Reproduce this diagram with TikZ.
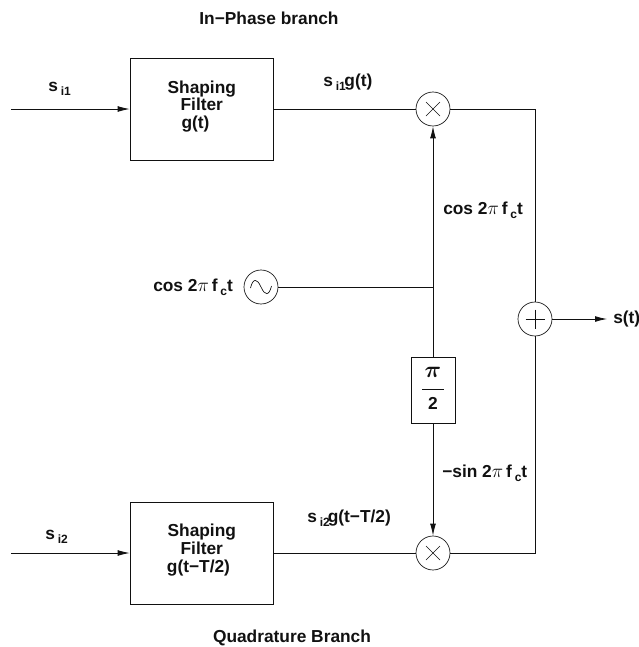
\documentclass[tikz,border=0pt]{standalone}
\usepackage{fontspec}
\setmainfont{Liberation Sans}
\usetikzlibrary{arrows.meta,calc}
\definecolor{ink}{HTML}{111111}
\newcommand{\lowtxt}[1]{\,\raisebox{-3pt}{\fontsize{9}{9}\selectfont #1}}
\newcommand{\pitxt}{{\fontsize{15}{13}\selectfont$\pi$}}

\begin{document}
\begin{tikzpicture}[
  x=0.75pt, y=-0.75pt,
  font={\fontsize{13}{13.2}\selectfont\bfseries},
  >={Latex[length=9pt,width=4.4pt]},
  filterbox/.style={draw=ink, line width=0.6pt, minimum width=107.6pt, minimum height=76.5pt,
    inner sep=0pt, anchor=center},
  filtertext/.style={align=center, inner sep=0pt, text=ink, anchor=center},
  phasebox/.style={draw=ink, line width=0.6pt, minimum width=33pt, minimum height=49.5pt,
    inner sep=0pt, text=ink, anchor=center},
  opnode/.style={draw=ink, line width=0.5pt, circle, minimum size=25.5pt, inner sep=0pt, anchor=center},
  sigtext/.style={text=ink, inner sep=0pt, anchor=west},
  flow/.style={draw=ink, line width=0.6pt}
]
\useasboundingbox (0,0) rectangle (639,647);

\node[filterbox] (filta) at (201.8,109) {};
\node[filterbox] (filtb) at (201.8,553) {};
\node[filtertext] (filtatext) at (201.8,106.5) {Shaping\\Filter\hspace*{4.5pt}\\g(t)\hspace*{9.5pt}};
\node[filtertext] (filtbtext) at (201.8,550) {Shaping\\Filter\hspace*{4.5pt}\\g(t−T/2)\hspace*{5pt}};
\node[opnode] (mixa) at (433,109) {};
\node[opnode] (mixb) at (433,553) {};
\node[opnode] (adder) at (535,319) {};
\node[opnode] (osc) at (261,287) {};
\node[phasebox] (shift) at (433,390) {\begin{tabular}{@{}c@{}}{\fontsize{17}{13}\selectfont\boldmath$\pi$}\\[-4pt]\rule{16.5pt}{0.5pt}\\[1.5pt]2\end{tabular}};

\coordinate (ina) at (11,109);
\coordinate (inb) at (11,553);
\coordinate (split) at (433,287);
\coordinate (outp) at (607,319);

\draw[flow,->] (ina) -- (filta);
\draw[flow,->] (inb) -- (filtb);
\draw[flow] (filta) -- (mixa);
\draw[flow] (filtb) -- (mixb);
\draw[flow] (mixa) -| (adder);
\draw[flow] (mixb) -| (adder);
\draw[flow] (osc) -- (split);
\draw[flow,->] (split) -- (mixa);
\draw[flow] (shift) -- (split);
\draw[flow,->] (shift) -- (mixb);
\draw[flow,->] (adder) -- (outp);

% symbols inside the circles
\foreach \n in {mixa,mixb} {
  \draw[ink, line width=0.4pt] ($(\n)+(-7,-7)$) -- ($(\n)+(7,7)$);
  \draw[ink, line width=0.4pt] ($(\n)+(-7,7)$) -- ($(\n)+(7,-7)$);
}
\draw[ink, line width=0.4pt] ($(adder)+(-9.5,0)$) -- ($(adder)+(9.5,0)$);
\draw[ink, line width=0.4pt] ($(adder)+(0,-9.5)$) -- ($(adder)+(0,9.5)$);
\draw[ink, line width=0.5pt] ($(osc)+(-10.5,1)$) .. controls ($(osc)+(-8,-9)$) and ($(osc)+(-4,-9)$) .. (osc.center)
  .. controls ($(osc)+(4,9)$) and ($(osc)+(8,9)$) .. ($(osc)+(10.5,-1)$);

\node[text=ink, inner sep=0pt] (toplabel) at (269,18) {In−Phase branch};
\node[text=ink, inner sep=0pt] (botlabel) at (292,638) {Quadrature Branch};
\node[sigtext] (sa) at (48,89) {s\lowtxt{i1}};
\node[sigtext] (sb) at (45,537) {s\lowtxt{i2}};
\node[sigtext] (sga) at (323,82) {s\lowtxt{i1}\kern-1pt g(t)};
\node[sigtext] (sgb) at (307,518) {s\lowtxt{i2}\kern-1.5pt g(t−T/2)};
\node[sigtext] (cosa) at (443,210) {cos 2\pitxt\,f\lowtxt{c}t};
\node[sigtext] (cosb) at (153,287) {cos 2\pitxt\,f\lowtxt{c}t};
\node[sigtext] (sinb) at (442,473) {−sin 2\pitxt\,f\lowtxt{c}t};
\node[sigtext] (st) at (613,319) {s(t)};
\end{tikzpicture}
\end{document}
